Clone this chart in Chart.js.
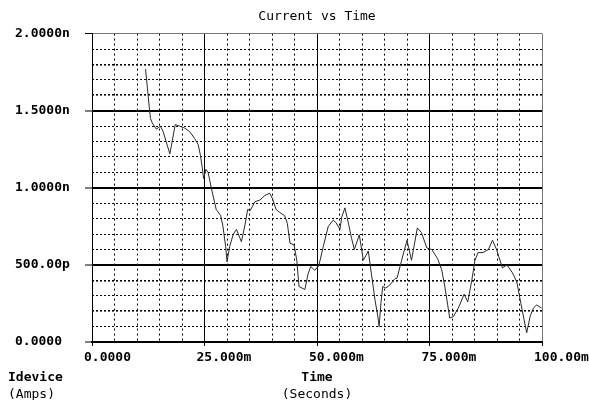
<!DOCTYPE html>
<html>
<head>
<meta charset="utf-8">
<script src="https://cdn.jsdelivr.net/npm/chart.js@4/dist/chart.umd.min.js"></script>
<style>
  html, body { margin: 0; padding: 0; background: #fff; }
</style>
</head>
<body>
<canvas id="currentChart" width="589" height="400"></canvas>
<script>
// time in ms, current in nA
let timeMs = [11.9, 12.8, 13.0, 13.4, 14.3, 15.2, 15.8, 17.3, 18.5, 19.5, 20.6, 21.7, 22.8, 23.6, 24.1, 24.5, 24.8,
  25.3, 25.8, 26.5, 27.6, 28.6, 29.1, 29.7, 30.0, 30.6, 31.4, 32.1, 33.2, 34.0, 34.6, 35.1, 36.2, 37.3, 38.4,
  39.5, 40.1, 40.9, 41.7, 42.8, 43.4, 44.0, 44.9, 45.5, 46.0, 47.3, 48.0, 48.6, 49.5, 50.4, 51.4, 52.5, 53.6,
  54.2, 55.1, 55.5, 56.2, 56.9, 57.7, 58.3, 59.4, 60.3, 61.4, 62.1, 62.9, 63.5, 63.8, 64.2, 64.6, 65.3, 66.2,
  67.3, 67.8, 68.8, 70.0, 71.0, 72.3, 73.2, 74.4, 75.5, 76.8, 77.7, 78.4, 79.5, 80.3, 81.4, 82.7, 83.5, 84.4,
  85.1, 85.8, 86.9, 88.1, 89.0, 89.9, 91.2, 92.2, 93.4, 94.4, 95.3, 96.6, 97.4, 98.1, 98.8, 99.9];
let currentNa = [1.77, 1.50, 1.45, 1.42, 1.38, 1.40, 1.365, 1.22, 1.41, 1.40, 1.387, 1.365, 1.32, 1.28, 1.21, 1.13, 1.06,
  1.12, 1.10, 1.00, 0.86, 0.82, 0.75, 0.62, 0.52, 0.62, 0.70, 0.73, 0.65, 0.76, 0.86, 0.85, 0.91, 0.92, 0.95,
  0.965, 0.93, 0.86, 0.84, 0.82, 0.77, 0.64, 0.63, 0.53, 0.36, 0.34, 0.44, 0.49, 0.465, 0.495, 0.62, 0.75, 0.79,
  0.775, 0.73, 0.81, 0.87, 0.78, 0.67, 0.60, 0.695, 0.53, 0.59, 0.44, 0.27, 0.17, 0.10, 0.25, 0.36, 0.35, 0.37,
  0.41, 0.415, 0.53, 0.66, 0.53, 0.74, 0.71, 0.61, 0.60, 0.54, 0.47, 0.36, 0.155, 0.165, 0.22, 0.31, 0.26, 0.40,
  0.53, 0.58, 0.58, 0.60, 0.66, 0.60, 0.48, 0.50, 0.45, 0.39, 0.25, 0.06, 0.17, 0.22, 0.24, 0.22];

let xTickValues = [0, 25, 50, 75, 100];
let xTickLabels = ["0.0000", "25.000m", "50.000m", "75.000m", "100.00m"];
let yTickValues = [0, 0.5, 1, 1.5, 2];
let yTickLabels = ["0.0000", "500.00p", "1.0000n", "1.5000n", "2.0000n"];

const labelFor = (values, labels, v) => {
  let i = values.findIndex(t => Math.abs(t - v) < 1e-6);
  return i < 0 ? "" : labels[i];
};
const isMajor = (v, step) => Math.abs(v / step - Math.round(v / step)) < 1e-6;

const mono = "'DejaVu Sans Mono', 'Liberation Mono', monospace";

// y axis caption sits at the bottom left, like the original plot
const cornerCaption = {
  id: "cornerCaption",
  afterDraw(chart) {
    let c = chart.ctx, a = chart.chartArea;
    c.save();
    c.fillStyle = "#000";
    c.textBaseline = "middle";
    c.font = "bold 13px " + mono;
    c.fillText("Idevice", a.left - 84, a.bottom + 36);
    c.font = "13px " + mono;
    c.fillText("(Amps)", a.left - 84, a.bottom + 53);
    c.restore();
  }
};

let points = timeMs.map((t, i) => ({ x: t, y: currentNa[i] }));

let ctx = document.getElementById("currentChart").getContext("2d");
let myChart = new Chart(ctx, {
  type: "line",
  data: {
    datasets: [{
      label: "Idevice",
      data: points,
      borderColor: "#2a2a2a",
      borderWidth: 1,
      pointRadius: 0,
      tension: 0,
      fill: false
    }]
  },
  options: {
    responsive: false,
    animation: false,
    devicePixelRatio: 1,
    layout: { padding: { left: 15, right: 0, top: 0, bottom: 0 } },
    plugins: {
      legend: { display: false },
      tooltip: { enabled: false },
      title: {
        display: true,
        text: "Current vs Time",
        fullSize: false,
        color: "#000",
        font: { family: mono, size: 13, weight: "normal" },
        padding: { top: 9, bottom: 9 }
      }
    },
    scales: {
      x: {
        type: "linear",
        position: "bottom",
        weight: 0,
        min: 0,
        max: 100,
        afterFit: s => { s.height = 43; s.paddingRight = 0; s.paddingLeft = 0; },
        ticks: {
          stepSize: 25,
          align: "start",
          labelOffset: -8,
          padding: 4,
          maxRotation: 0,
          color: "#000",
          font: { family: mono, size: 13, weight: "bold" },
          callback: v => labelFor(xTickValues, xTickLabels, v)
        },
        grid: {
          color: c => (c.tick && c.tick.value === 100 ? "#777" : "#000"),
          lineWidth: 1,
          tickLength: 4,
          tickColor: "#000"
        },
        border: { display: true, color: "#000", width: 2 },
        title: {
          display: true,
          text: "Time",
          color: "#000",
          font: { family: mono, size: 13, weight: "bold" },
          padding: { top: 0, bottom: 0 }
        }
      },
      xMinor: {
        type: "linear",
        position: "bottom",
        weight: 1,
        min: 0,
        max: 100,
        afterFit: s => { s.height = 15; },
        ticks: { display: false, stepSize: 5 },
        grid: {
          drawTicks: false,
          color: c => (c.tick && isMajor(c.tick.value, 25) ? "rgba(0,0,0,0)" : "#000"),
          lineWidth: 1
        },
        border: { display: false, dash: [2, 3] },
        title: {
          display: true,
          text: "(Seconds)",
          color: "#000",
          font: { family: mono, size: 13, weight: "normal", lineHeight: 1 },
          padding: { top: 0, bottom: -1 }
        }
      },
      y: {
        type: "linear",
        position: "left",
        min: 0,
        max: 2,
        afterFit: s => { s.width = 77; },
        ticks: {
          stepSize: 0.5,
          crossAlign: "far",
          color: "#000",
          font: { family: mono, size: 13, weight: "bold" },
          callback: v => labelFor(yTickValues, yTickLabels, v)
        },
        grid: {
          color: c => (c.tick && c.tick.value === 2 ? "#777" : "#000"),
          lineWidth: c => (c.tick && c.tick.value === 2 ? 1 : 2),
          tickLength: 7,
          tickWidth: 1,
          tickColor: "#000"
        },
        border: { display: true, color: "#000", width: 1 }
      },
      yMinor: {
        type: "linear",
        position: "right",
        min: 0,
        max: 2,
        afterFit: s => { s.width = 47; },
        ticks: { display: false, stepSize: 0.1 },
        grid: {
          drawTicks: false,
          color: c => (c.tick && isMajor(c.tick.value, 0.5) ? "rgba(0,0,0,0)" : "#000"),
          lineWidth: c => {
            let k = c.tick ? Math.round(c.tick.value * 10) : 0;
            return [2, 4, 16, 18].includes(k) ? 1.6 : 1;
          }
        },
        border: { display: false, dash: [2, 2] }
      }
    }
  },
  plugins: [cornerCaption]
});
</script>
</body>
</html>
